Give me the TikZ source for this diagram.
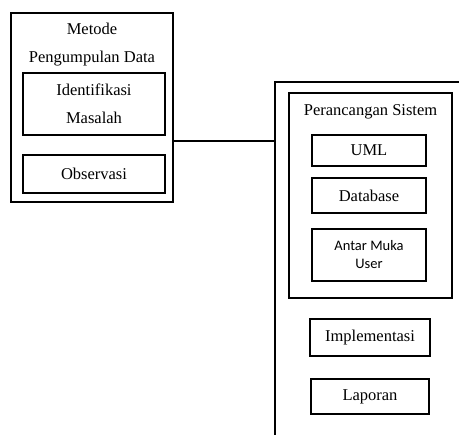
\documentclass[tikz,border=0pt]{standalone}
\usepackage{fontspec}
\setmainfont{Liberation Serif}
\newfontfamily\uifont{Carlito}
\begin{document}
\begin{tikzpicture}
[
 x=1pt, y=-1pt,
 line width=1.4pt,
 align=center,
 inner sep=0pt,
 font=\fontsize{16.5}{28}\selectfont,
 frame/.style={draw=black,rectangle},
 box/.style={draw=black,rectangle,minimum width=114pt}
]
\useasboundingbox (0,0) rectangle (459,435);
\node (metode) [frame,minimum width=162pt,minimum height=189pt] at (92,107.5) {};
\node (metode-title) at (92,45) {Metode\\Pengumpulan Data};
\node (identifikasi) [box,minimum width=142pt,minimum height=62pt] at (94,104) {Identifikasi\\Masalah};
\node (observasi) [box,minimum width=142pt,minimum height=38pt] at (94,174) {Observasi};
\coordinate (sistem-top) at (459,82);
\coordinate (sistem-corner) at (275,82);
\coordinate (sistem-bottom) at (275,435);
\draw (sistem-top) -- (sistem-corner) -- (sistem-bottom);
\coordinate (sistem-join) at (275,141);
\draw (metode.east |- sistem-join) -- (sistem-join);
\node (perancangan) [frame,minimum width=163pt,minimum height=205pt] at (370.5,195.5) {};
\node (perancangan-title) at (370.5,112) {Perancangan Sistem};
\node (uml) [box,minimum height=31pt] at (369,150.5) {UML};
\node (database) [box,minimum height=35pt] at (369,195.5) {Database};
\node (antarmuka) [box,minimum height=52pt,font=\uifont\fontsize{14.5}{18}\selectfont] at (369,255) {Antar Muka\\User};
\node (implementasi) [box,minimum width=120pt,minimum height=37pt] at (370,337.5) {Implementasi};
\node (laporan) [box,minimum width=118pt,minimum height=35pt] at (370,396.5) {Laporan};
\end{tikzpicture}
\end{document}
